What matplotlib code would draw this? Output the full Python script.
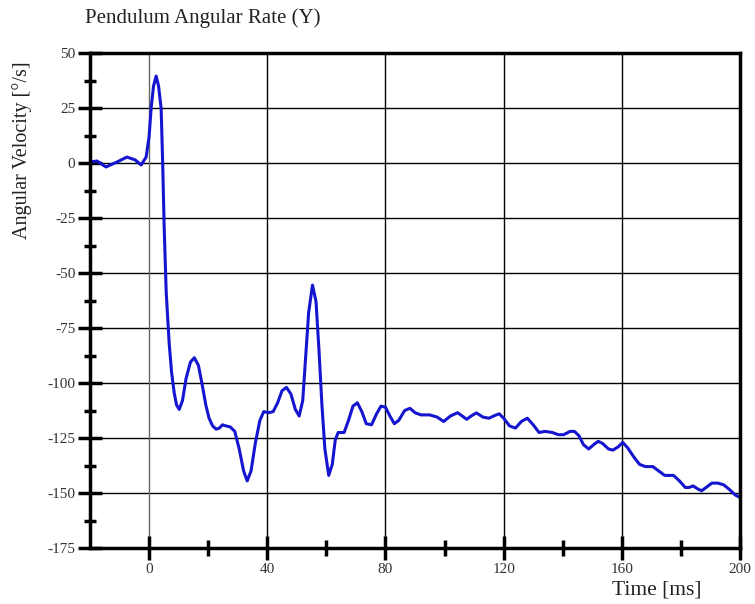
import matplotlib
matplotlib.use("Agg")
import matplotlib.pyplot as plt
from matplotlib.ticker import MultipleLocator, FixedLocator

# ---- data (time in ms, angular velocity in deg/s) ----
time_ms = [-20, -17.6, -14.6, -10.8, -7.5, -4.7, -2.7, -1.0, 0, 0.7, 1.5, 2.4, 3.2,
           4.07, 4.6, 5.1, 5.8, 6.8, 7.6, 8.5, 9.3, 10.2, 11.3, 12.5, 14, 15.3, 16.7,
           18, 19.2, 20.3, 21.5, 22.7, 23.8, 24.8, 26, 27.5, 29, 30.5, 32, 33.2, 34.5,
           36, 37.5, 38.8, 40.5, 42, 43.5, 45, 46.5, 48, 49.5, 50.8, 52, 53, 54, 55.3,
           56.5, 57.5, 58.5, 59.5, 60.8, 62, 63, 64, 66, 67.5, 69, 70.5, 72, 73.5,
           75.3, 77, 78.5, 80, 81.5, 83, 84.5, 86.5, 88.3, 90, 92, 95, 97.5, 99.7, 102,
           104.4, 106, 107.5, 109, 110.8, 113, 115, 117.5, 118.5, 120, 122, 124, 126,
           128, 130, 132, 134, 136.5, 138.5, 140.3, 142.5, 144, 145.5, 147, 148.8,
           150.5, 152, 153.5, 155.5, 157, 158.8, 160.3, 162, 164, 166, 168, 170.5,
           172.5, 174.5, 177.5, 179.5, 181.5, 182.7, 184.2, 185.5, 187, 188.5, 190.5,
           192.5, 194.5, 196.5, 198.5, 200]
angular_rate = [0.5, 0.9, -1.8, 0.5, 2.7, 1.4, -0.9, 2.7, 12, 25, 35, 39.5, 35,
                25, 0, -29, -59, -82, -95, -104.5, -110, -112, -108, -98, -90.5, -88.5,
                -92, -101, -110, -116, -119.5, -121, -120.5, -119, -119.5, -120, -122,
                -130, -140, -144.5, -140, -127, -117, -113, -113.5, -113, -109, -103.5,
                -102, -105, -112, -115, -108, -88, -68, -55.5, -63, -85, -110, -130,
                -142, -137, -126, -122.5, -122.5, -117, -110.5, -109, -113, -118.5,
                -119, -114, -110.5, -111, -115, -118.5, -117, -112.5, -111.5, -113.5,
                -114.5, -114.5, -115.5, -117.5, -115, -113.5, -115, -116.5, -115,
                -113.6, -115.5, -116, -114.5, -114, -116, -119.5, -120.5, -117.5, -116,
                -119, -122.5, -122, -122.5, -123.5, -123.5, -122, -122, -124, -128,
                -130, -128, -126.5, -127.5, -130, -130.5, -129, -127, -129.5, -133.5,
                -137, -138, -138, -140, -142, -142, -144.5, -147.5, -147.5, -146.8,
                -148, -149, -147.5, -145.5, -145.5, -146.3, -148.5, -151, -152]

x_tick_values = [0, 40, 80, 120, 160, 200]
x_minor_values = [20, 60, 100, 140, 180]
y_tick_values = [50, 25, 0, -25, -50, -75, -100, -125, -150, -175]

title_text = "Pendulum Angular Rate (Y)"
x_label = "Time [ms]"
y_label = "Angular Velocity [°/s]"

serif = ["Liberation Serif", "DejaVu Serif"]
txt_color = "#333333"

fig = plt.figure(figsize=(7.55, 6.04), dpi=100)
ax = fig.add_axes([90 / 755, 56 / 604, 650 / 755, 495 / 604])

ax.set_xlim(-20, 200)
ax.set_ylim(-175, 50)

# grid
for yv in y_tick_values:
    ax.axhline(yv, color="black", lw=1.0, zorder=1)
for xv in x_tick_values[:-1]:
    ax.axvline(xv, color="#666666" if xv == 0 else "black", lw=1.0, zorder=1)

ax.plot(time_ms, angular_rate, color="#1515d0", lw=2.2, zorder=3,
        solid_joinstyle="round", solid_capstyle="round")

for s in ax.spines.values():
    s.set_linewidth(2.5)
    s.set_color("black")
    s.set_zorder(4)

ax.xaxis.set_major_locator(FixedLocator(x_tick_values))
ax.xaxis.set_minor_locator(FixedLocator(x_minor_values))
ax.yaxis.set_major_locator(FixedLocator(y_tick_values))
ax.yaxis.set_minor_locator(MultipleLocator(12.5))

ax.tick_params(axis="x", which="major", direction="inout", length=17, width=2.5,
               pad=2, labelsize=11, labelcolor=txt_color)
ax.tick_params(axis="x", which="minor", direction="inout", length=12, width=2.5)
ax.tick_params(axis="y", which="major", direction="inout", length=17, width=2.5,
               pad=2, labelsize=11, labelcolor=txt_color)
ax.tick_params(axis="y", which="minor", direction="inout", length=8, width=2.5)
ax.set_xticklabels([str(v) for v in x_tick_values], family=serif)
ax.set_yticklabels([str(v) for v in y_tick_values], family=serif)

fig.text(85 / 755, 1 - 18 / 604, title_text, family=serif, fontsize=15,
         color="#222222", ha="left", va="center")
fig.text(22 / 755, 1 - 150 / 604, y_label, family=serif, fontsize=14.5,
         color="#222222", rotation=90, ha="center", va="center")
fig.text(657 / 755, 1 - 590 / 604, x_label, family=serif, fontsize=15.5,
         color="#222222", ha="center", va="center")

fig.savefig("out.png", dpi=100)
